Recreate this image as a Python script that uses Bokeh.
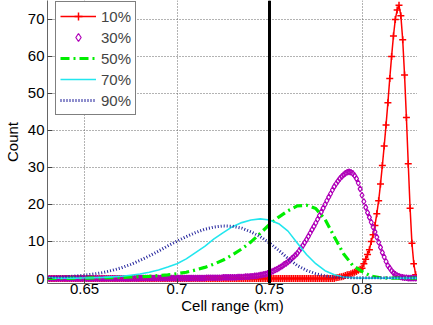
from bokeh.plotting import figure
from bokeh.models import Span, Legend, LegendItem, FixedTicker, CustomJSTickFormatter, Range1d
from bokeh.embed import file_html
from bokeh.resources import INLINE

# x positions (km): fine bins for marker series, coarse for line series
x_fine = [round(0.630 + 0.001 * i, 3) for i in range(206)]
x_coarse = [round(0.630 + 0.005 * i, 3) for i in range(42)]

series_names = ["10%", "30%", "50%", "70%", "90%"]

# 10% (x_fine)
count_10 = [
    0, 0, 0, 0, 0, 0, 0, 0, 0, 0,          # 0.630
    0, 0, 0, 0, 0, 0, 0, 0, 0, 0,          # 0.640
    0, 0, 0, 0, 0, 0, 0, 0, 0, 0,          # 0.650
    0, 0, 0, 0, 0, 0, 0, 0, 0, 0,          # 0.660
    0, 0, 0, 0, 0, 0, 0, 0, 0, 0,          # 0.670
    0, 0, 0, 0, 0, 0, 0, 0, 0, 0,          # 0.680
    0, 0, 0, 0, 0, 0, 0, 0, 0, 0,          # 0.690
    0, 0, 0, 0, 0, 0, 0, 0, 0, 0,          # 0.700
    0, 0, 0, 0, 0, 0, 0, 0, 0, 0,          # 0.710
    0, 0, 0, 0, 0, 0, 0, 0, 0, 0,          # 0.720
    0, 0, 0, 0, 0, 0, 0, 0, 0, 0,          # 0.730
    0, 0, 0, 0, 0, 0, 0, 0, 0, 0,          # 0.740
    0, 0, 0, 0, 0, 0, 0, 0, 0, 0,          # 0.750
    0, 0, 0, 0, 0, 0, 0, 0, 0, 0,          # 0.760
    0, 0, 0, 0, 0, 0, 0, 0, 0, 0,          # 0.770
    0, 0, 0, 0, 0, 0, 0.2, 0.3, 0.4, 0.5,  # 0.780
    0.6, 0.8, 1.0, 1.1, 1.3, 1.5, 1.7, 1.9, 2.2, 2.5,        # 0.790
    2.8, 4.0, 5.2, 6.5, 7.8, 10.0, 11.8, 14.3, 17.5, 21.0,   # 0.800
    25.5, 30.5, 35.8, 41.5, 47.5, 54.0, 60.0, 65.5, 70.0, 72.5,  # 0.810
    73.8, 71.0, 64.5, 55.0, 43.5, 31.0, 19.0, 9.5, 4.0, 1.0,  # 0.820
    0.3, 0.1, 0, 0, 0, 0,                                     # 0.830
]

# 30% (x_fine)
count_30 = [
    0, 0, 0, 0, 0, 0, 0, 0, 0, 0,          # 0.630
    0, 0, 0, 0, 0, 0, 0, 0, 0, 0,          # 0.640
    0, 0, 0, 0, 0, 0, 0, 0, 0, 0,          # 0.650
    0, 0, 0, 0, 0, 0, 0, 0, 0, 0,          # 0.660
    0, 0, 0, 0, 0, 0, 0, 0, 0, 0,          # 0.670
    0.1, 0.1, 0.1, 0.1, 0.1, 0.1, 0.1, 0.1, 0.1, 0.1,    # 0.680
    0.1, 0.1, 0.1, 0.1, 0.1, 0.1, 0.1, 0.1, 0.1, 0.1,    # 0.690
    0.1, 0.1, 0.1, 0.1, 0.1, 0.1, 0.1, 0.1, 0.1, 0.1,    # 0.700
    0.1, 0.1, 0.1, 0.1, 0.1, 0.1, 0.2, 0.2, 0.2, 0.2,    # 0.710
    0.2, 0.2, 0.2, 0.2, 0.2, 0.3, 0.3, 0.3, 0.3, 0.3,    # 0.720
    0.3, 0.3, 0.3, 0.4, 0.4, 0.4, 0.4, 0.5, 0.5, 0.5,    # 0.730
    0.6, 0.6, 0.7, 0.7, 0.8, 0.9, 1.0, 1.1, 1.2, 1.4,    # 0.740
    1.6, 1.8, 2.0, 2.3, 2.5, 2.8, 3.1, 3.4, 3.8, 4.1,    # 0.750
    4.5, 4.9, 5.4, 5.8, 6.3, 6.8, 7.5, 8.2, 8.9, 9.7,    # 0.760
    10.5, 11.4, 12.3, 13.2, 14.1, 15.0, 16.0, 17.0, 18.0, 19.0,   # 0.770
    20.0, 21.0, 22.0, 22.9, 23.9, 24.8, 25.6, 26.3, 27.0, 27.5,   # 0.780
    28.0, 28.4, 28.7, 28.8, 28.7, 28.4, 27.8, 27.0, 25.8, 24.2,   # 0.790
    22.5, 20.8, 19.2, 17.8, 16.5, 15.2, 13.9, 12.6, 11.2, 9.8,    # 0.800
    8.4, 7.0, 5.8, 4.6, 3.5, 2.8, 2.1, 1.5, 1.1, 0.8,             # 0.810
    0.6, 0.4, 0.3, 0.2, 0.2, 0.1, 0.1, 0.1, 0.1, 0.1,             # 0.820
    0.1, 0.1, 0.1, 0.1, 0.1, 0.1,                                 # 0.830
]

# 50% (x_coarse)
count_50 = [
    0.0, 0.0, 0.05, 0.1, 0.1, 0.15, 0.2, 0.25, 0.3, 0.4,
    0.5, 0.6, 0.8, 1.0, 1.3, 1.7, 2.3, 3.0, 3.9, 5.0,
    6.4, 8.0, 9.9, 12.2, 14.6, 16.6, 18.3, 19.6, 19.8, 18.9,
    16.0, 11.3, 6.7, 3.5, 1.9, 0.6, 0.2, 0.1, 0.1, 0.1,
    0.1, 0.1,
]

# 70% (x_coarse)
count_70 = [
    0.1, 0.1, 0.1, 0.1, 0.15, 0.2, 0.3, 0.45, 0.6, 0.9,
    1.2, 1.7, 2.3, 3.1, 4.0, 5.3, 7.0, 8.7, 10.7, 12.4,
    14.0, 15.1, 15.8, 16.1, 15.8, 14.8, 12.8, 9.6, 6.5, 4.0,
    2.1, 1.0, 0.4, 0.2, 0.1, 0.1, 0.1, 0.1, 0.1, 0.1,
    0.1, 0.1,
]

# 90% (x_coarse)
count_90 = [
    0.3, 0.4, 0.5, 0.7, 0.9, 1.2, 1.6, 2.2, 2.9, 3.8,
    4.9, 6.1, 7.4, 8.8, 10.1, 11.3, 12.4, 13.3, 13.9, 14.2,
    14.1, 13.6, 12.6, 11.3, 9.6, 7.6, 5.4, 3.5, 2.2, 1.3,
    0.7, 0.4, 0.3, 0.2, 0.2, 0.2, 0.2, 0.2, 0.2, 0.2,
    0.2, 0.2,
]

threshold_km = 0.75
x_ticks = [0.65, 0.7, 0.75, 0.8]
y_ticks = [0, 10, 20, 30, 40, 50, 60, 70]

FONT = "Liberation Sans"

p = figure(width=417, height=317, output_backend="svg", toolbar_location=None,
           x_range=Range1d(0.630, 0.830), y_range=Range1d(-1.35, 75.1),
           min_border_left=42, min_border_right=0, min_border_top=0,
           min_border_bottom=34, background_fill_color="white")
p.outline_line_color = None

r10l = p.line(x_fine, count_10, line_color="#ff0000", line_width=1.5)
r10m = p.scatter(x_fine, count_10, marker="cross", size=7, line_color="#ff0000",
                 line_width=1.5)
r30 = p.scatter(x_fine, count_30, marker="diamond", size=6, line_color="#b000b8",
                fill_color=None, line_width=1.2)
r50 = p.line(x_coarse, count_50, line_color="#00ee00", line_width=3.2,
             line_dash="9 4 2 4")
r70 = p.line(x_coarse, count_70, line_color="#22e6ee", line_width=1.6)
r90 = p.line(x_coarse, count_90, line_color="#22229c", line_width=3,
             line_dash="1 2")

p.add_layout(Span(location=threshold_km, dimension="height", line_color="black",
                  line_width=3))

# axes
for ax in (p.xaxis[0], p.yaxis[0]):
    ax.axis_line_color = "#666666"
    ax.major_tick_line_color = "#444444"
    ax.major_tick_in = 5
    ax.major_tick_out = 0
    ax.minor_tick_line_color = None
    ax.major_label_text_font = FONT
    ax.major_label_text_font_size = "15px"
    ax.major_label_text_color = "black"
    ax.axis_label_text_font = FONT
    ax.axis_label_text_font_size = "15px"
    ax.axis_label_text_font_style = "normal"
    ax.axis_label_text_color = "black"

p.xaxis.ticker = FixedTicker(ticks=x_ticks)
p.xaxis.formatter = CustomJSTickFormatter(code="return tick.toFixed(3).replace(/0+$/, '');")
p.yaxis.ticker = FixedTicker(ticks=y_ticks)
p.xaxis.axis_label = "Cell range (km)"
p.yaxis.axis_label = "Count"
p.xaxis.major_label_standoff = 0
p.xaxis.axis_label_standoff = 0
p.yaxis.major_label_standoff = 3
p.yaxis.axis_label_standoff = 4

for g in (p.xgrid[0], p.ygrid[0]):
    g.grid_line_color = "#666666"
    g.grid_line_dash = "1 2"
    g.grid_line_width = 1

legend = Legend(items=[
    LegendItem(label=series_names[0], renderers=[r10l, r10m]),
    LegendItem(label=series_names[1], renderers=[r30]),
    LegendItem(label=series_names[2], renderers=[r50]),
    LegendItem(label=series_names[3], renderers=[r70]),
    LegendItem(label=series_names[4], renderers=[r90]),
], location=(8, 168))
legend.border_line_color = "black"
legend.border_line_width = 1
legend.background_fill_color = "white"
legend.background_fill_alpha = 1
legend.label_text_font = FONT
legend.label_text_font_size = "15px"
legend.glyph_width = 36
legend.glyph_height = 20
legend.label_height = 20
legend.spacing = 1
legend.padding = 4
legend.margin = 0
legend.label_standoff = 5
p.add_layout(legend)

open("out.html", "w").write(file_html(p, INLINE))
